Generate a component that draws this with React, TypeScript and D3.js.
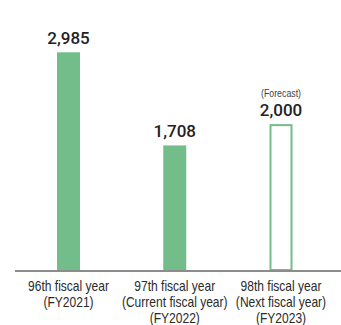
import React from "react";
import * as d3 from "d3";

const categories = ["96th", "97th", "98th"];
const labelLines = [
  ["96th fiscal year", "(FY2021)"],
  ["97th fiscal year", "(Current fiscal year)", "(FY2022)"],
  ["98th fiscal year", "(Next fiscal year)", "(FY2023)"],
];
const values = [2985, 1708, 2000];
const forecast = [false, false, true];

const W = 341;
const H = 325;
const GREEN = "#72bd8a";
const SX = 0.86;

export default function App() {
  const x = d3.scalePoint<string>().domain(categories).range([68.5, 281]);
  const y = d3.scaleLinear().domain([0, 3000]).range([270, 51.2]);
  const bw = 23;
  const fmt = d3.format(",");
  return (
    <svg width={W} height={H} style={{ position: "absolute", left: 0, top: 0 }}
      fontFamily="'Liberation Sans', Arial, sans-serif">
      {categories.map((c, i) => {
        const cx = x(c)!;
        const top = y(values[i]);
        return (
          <g key={c}>
            {forecast[i] ? (
              <rect x={cx - bw / 2 + 1} y={top + 1} width={bw - 2} height={y(0) - top - 1}
                fill="white" stroke={GREEN} strokeWidth={2} />
            ) : (
              <rect x={cx - bw / 2} y={top} width={bw} height={y(0) - top} fill={GREEN} />
            )}
            <text x={cx} y={top - 8} textAnchor="middle" fontSize={17} fontWeight={500} fill="#222"
              fontFamily="Roboto, 'Liberation Sans', sans-serif">
              {fmt(values[i])}
            </text>
            {forecast[i] && (
              <text transform={`translate(${cx},${top - 27}) scale(0.8,1)`} textAnchor="middle"
                fontSize={11} fill="#444">
                (Forecast)
              </text>
            )}
            {labelLines[i].map((l, j) => (
              <text key={j} transform={`translate(${cx},${291 + j * 16}) scale(${SX},1)`}
                textAnchor="middle" fontSize={14} fill="#2a2a2a">
                {l}
              </text>
            ))}
          </g>
        );
      })}
      <line x1={15} x2={W} y1={271} y2={271} stroke="#8c8c8c" strokeWidth={2} />
    </svg>
  );
}
